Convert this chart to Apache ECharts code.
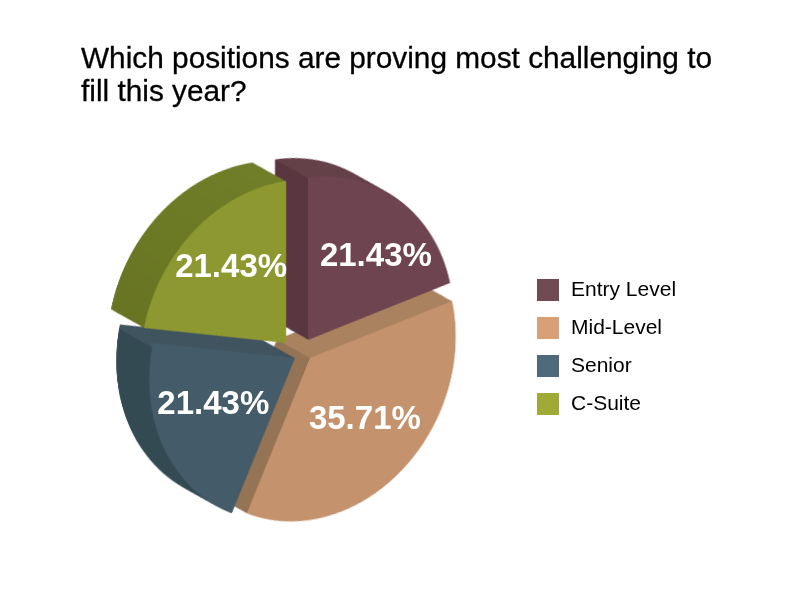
<!DOCTYPE html>
<html>
<head>
<meta charset="utf-8">
<style>
html,body{margin:0;padding:0;background:#fff;width:800px;height:600px;overflow:hidden}
#faces,#main{position:absolute;left:0;top:0;width:800px;height:600px}
#faces{transform-origin:300px 347px;transform:matrix(0.9,-0.133,0,1,0,0)}
</style>
<script src="https://cdn.jsdelivr.net/npm/echarts@6/dist/echarts.min.js"></script>
</head>
<body>
<div id="faces"></div>
<div id="main"></div>
<script>
const categories = ['Entry Level', 'Mid-Level', 'Senior', 'C-Suite'];
const values = [21.43, 35.71, 21.43, 21.43];
const titleText = 'Which positions are proving most challenging to\nfill this year?';

const frontColors = ['#6d444f', '#c4936e', '#445c69', '#8e9830'];
const legendColors = ['#724a54', '#d8a077', '#4f6a7a', '#a0aa36'];
const sideLowColors = ['#5a3640', '#957355', '#344a52', '#667220'];
const sideHighColors = ['#644049', '#ab8260', '#3f545f', '#74822b'];
const sideSoftness = [0, 0, 0, 0.25];
const sideDividers = [[308, 178], [310, 358], [148, 345], [190, 230]];
const apexes = [[308, 340], [310, 358], [295, 358], [286, 343]];
const labelCentres = [[374, 259], [363, 418], [216, 404], [233, 270]];

const RADIUS = 162, SX = 0.9, SK = -0.133, OX = 300, OY = 347;
const DEPTH = [-33, -18.5], LAYERS = 36;

function toLocal(x, y) {
  const dx = (x - OX) / SX;
  return [OX + dx, OY + (y - OY) - SK * dx];
}
function sideGradient(i) {
  const p = toLocal(sideDividers[i][0], sideDividers[i][1]);
  const ex = DEPTH[0] / SX, ey = DEPTH[1] - SK * ex;
  const len = Math.hypot(ex, ey), L = 300;
  const nx = ey / len, ny = -ex / len, s = sideSoftness[i];
  return {
    type: 'linear', global: true,
    x: p[0] + nx * L, y: p[1] + ny * L, x2: p[0] - nx * L, y2: p[1] - ny * L,
    colorStops: [
      {offset: 0, color: sideLowColors[i]},
      {offset: 0.5 - s, color: sideLowColors[i]},
      {offset: 0.5 + s, color: sideHighColors[i]},
      {offset: 1, color: sideHighColors[i]}
    ]
  };
}
function sliceData(i, color) {
  return values.map((v, j) => ({
    name: categories[j], value: v,
    itemStyle: {color: j === i ? color : 'rgba(0,0,0,0)'}
  }));
}
function facePie(i, cx, cy, color) {
  return {
    type: 'pie', radius: [0, RADIUS], center: [cx, cy], startAngle: 90,
    silent: true, animation: false, legendHoverLink: false, selectedMode: false,
    label: {show: false}, labelLine: {show: false},
    data: sliceData(i, color)
  };
}
const paintOrder = [1, 0, 2, 3];
const faceSeries = [];
paintOrder.forEach(i => {
  const a = apexes[i], grad = sideGradient(i);
  for (let k = LAYERS; k >= 1; k--) {
    const t = k / LAYERS;
    const p = toLocal(a[0] + DEPTH[0] * t, a[1] + DEPTH[1] * t);
    faceSeries.push(facePie(i, p[0], p[1], grad));
  }
  const f = toLocal(a[0], a[1]);
  faceSeries.push(facePie(i, f[0], f[1], frontColors[i]));
});
const faces = echarts.init(document.getElementById('faces'), null, {devicePixelRatio: 2});
faces.setOption({animation: false, series: faceSeries});

// labels, title and legend sit in an untransformed layer
const total = values.reduce((a, b) => a + b, 0);
let cum = 0;
const LABEL_R = 200;
const labelSeries = values.map((v, i) => {
  const mid = (cum + v / 2) / total * 2 * Math.PI;
  cum += v;
  const c = labelCentres[i];
  return {
    type: 'pie', radius: [0, LABEL_R],
    center: [c[0] - LABEL_R / 2 * Math.sin(mid), c[1] + LABEL_R / 2 * Math.cos(mid)],
    startAngle: 90, silent: true, animation: false, selectedMode: false,
    labelLine: {show: false},
    data: values.map((w, j) => ({
      name: categories[j], value: w,
      itemStyle: {color: 'rgba(0,0,0,0)'},
      label: {
        show: j === i, position: 'inside', rotate: 0,
        formatter: w.toFixed(2) + '%', color: '#ffffff',
        fontFamily: 'Liberation Sans', fontWeight: 'bold', fontSize: 33
      }
    }))
  };
});
const main = echarts.init(document.getElementById('main'));
main.setOption({
  animation: false,
  backgroundColor: 'transparent',
  title: {
    text: titleText, left: 76, top: 38,
    textStyle: {fontFamily: 'Liberation Sans', fontWeight: 'normal', fontSize: 29.8, lineHeight: 33, color: '#000',
      textBorderColor: '#000', textBorderWidth: 0.3}
  },
  legend: {
    orient: 'vertical', left: 532, top: 274, itemWidth: 22, itemHeight: 22, itemGap: 16, selectedMode: false,
    icon: 'rect',
    textStyle: {fontFamily: 'Liberation Sans', fontSize: 21, color: '#000', padding: [0, 0, 0, 7]},
    data: categories.map((n, i) => ({name: n, itemStyle: {color: legendColors[i]}}))
  },
  series: labelSeries
});
</script>
</body>
</html>
